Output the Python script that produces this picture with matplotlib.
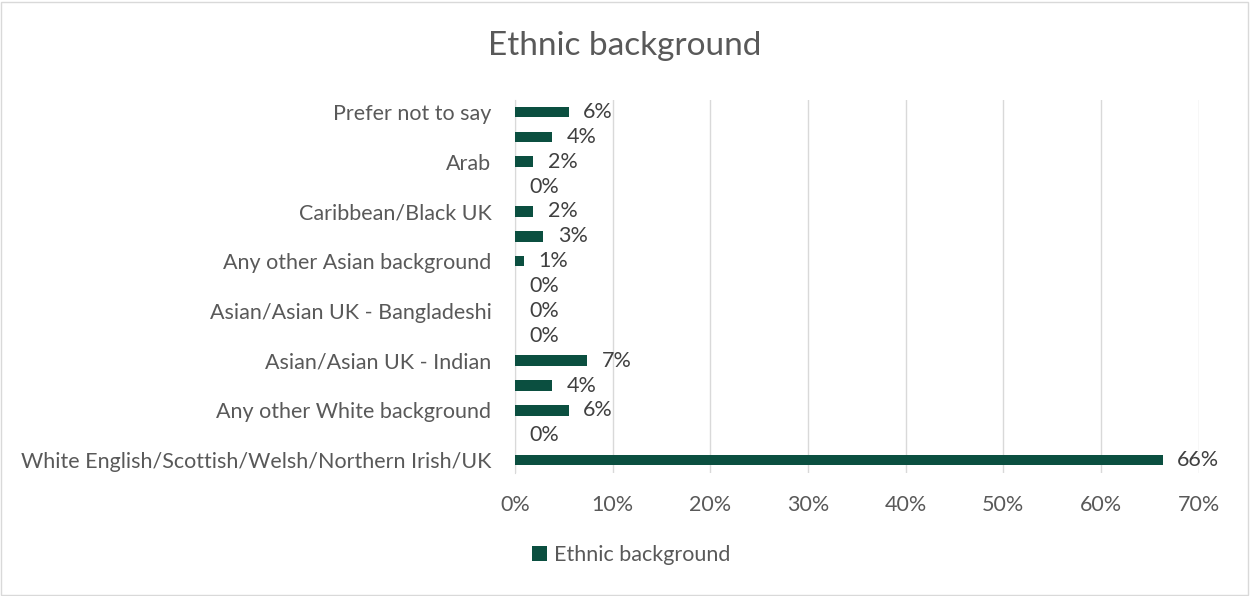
import matplotlib
matplotlib.use("Agg")
import matplotlib.pyplot as plt
from matplotlib.patches import Rectangle

plt.rcParams['font.family'] = ['Lato', 'DejaVu Sans']

# Categories listed bottom to top (Excel shows every other label)
categories = [
    "White English/Scottish/Welsh/Northern Irish/UK",
    "White Irish",
    "Any other White background",
    "Mixed/Multiple ethnic groups",
    "Asian/Asian UK - Indian",
    "Asian/Asian UK - Pakistani",
    "Asian/Asian UK - Bangladeshi",
    "Asian/Asian UK - Chinese",
    "Any other Asian background",
    "African/Black UK",
    "Caribbean/Black UK",
    "Any other Black background",
    "Arab",
    "Any other ethnic background",
    "Prefer not to say",
]
shown_labels = [True, False] * 7 + [True]
values = [66.3, 0.0, 5.5, 3.8, 7.4, 0.0, 0.0, 0.0, 0.9, 2.9, 1.85, 0.0, 1.85, 3.8, 5.5]
x_ticks = [0, 10, 20, 30, 40, 50, 60, 70]
series_name = "Ethnic background"

bar_color = "#0B4F40"
text_color = "#595959"
fs = 15.5

fig = plt.figure(figsize=(12.5, 5.96), dpi=100)
ax = fig.add_axes([0.412, 0.207, 0.547, 0.626])

y = list(range(len(categories)))
ax.barh(y, values, height=0.42, color=bar_color, label=series_name, zorder=3)

for yi, v in zip(y, values):
    ax.text(v + 1.5, yi, f"{round(v):.0f}%", va="center", ha="left",
            fontsize=fs, color="#404040", zorder=4)

ax.set_xlim(0, 70)
ax.set_ylim(-0.5, len(categories) - 0.5)
ax.set_xticks(x_ticks)
ax.set_xticklabels([f"{t}%" for t in x_ticks], fontsize=fs, color=text_color)
ax.set_yticks(y)
ax.set_yticklabels([c if s else "" for c, s in zip(categories, shown_labels)],
                   fontsize=fs, color=text_color)
ax.tick_params(axis="both", length=0)
ax.tick_params(axis="x", pad=16)
ax.tick_params(axis="y", pad=17)

ax.grid(axis="x", color="#D9D9D9", linewidth=1, zorder=0)
for s in ["top", "right", "bottom"]:
    ax.spines[s].set_visible(False)
ax.spines["left"].set_color("#D9D9D9")
ax.spines["left"].set_zorder(2)

fig.text(0.5, 0.922, "Ethnic background", ha="center", va="center",
         fontsize=24, color=text_color)

leg = fig.legend(loc="center", bbox_to_anchor=(0.505, 0.068), frameon=False,
                 fontsize=fs, handlelength=0.7, handleheight=0.7,
                 handletextpad=0.3, labelcolor=text_color)

fig.patches.append(Rectangle((0.001, 0.002), 0.997, 0.995, transform=fig.transFigure,
                             fill=False, edgecolor="#D9D9D9", linewidth=1))

fig.savefig("out.png", dpi=100, facecolor="white")
